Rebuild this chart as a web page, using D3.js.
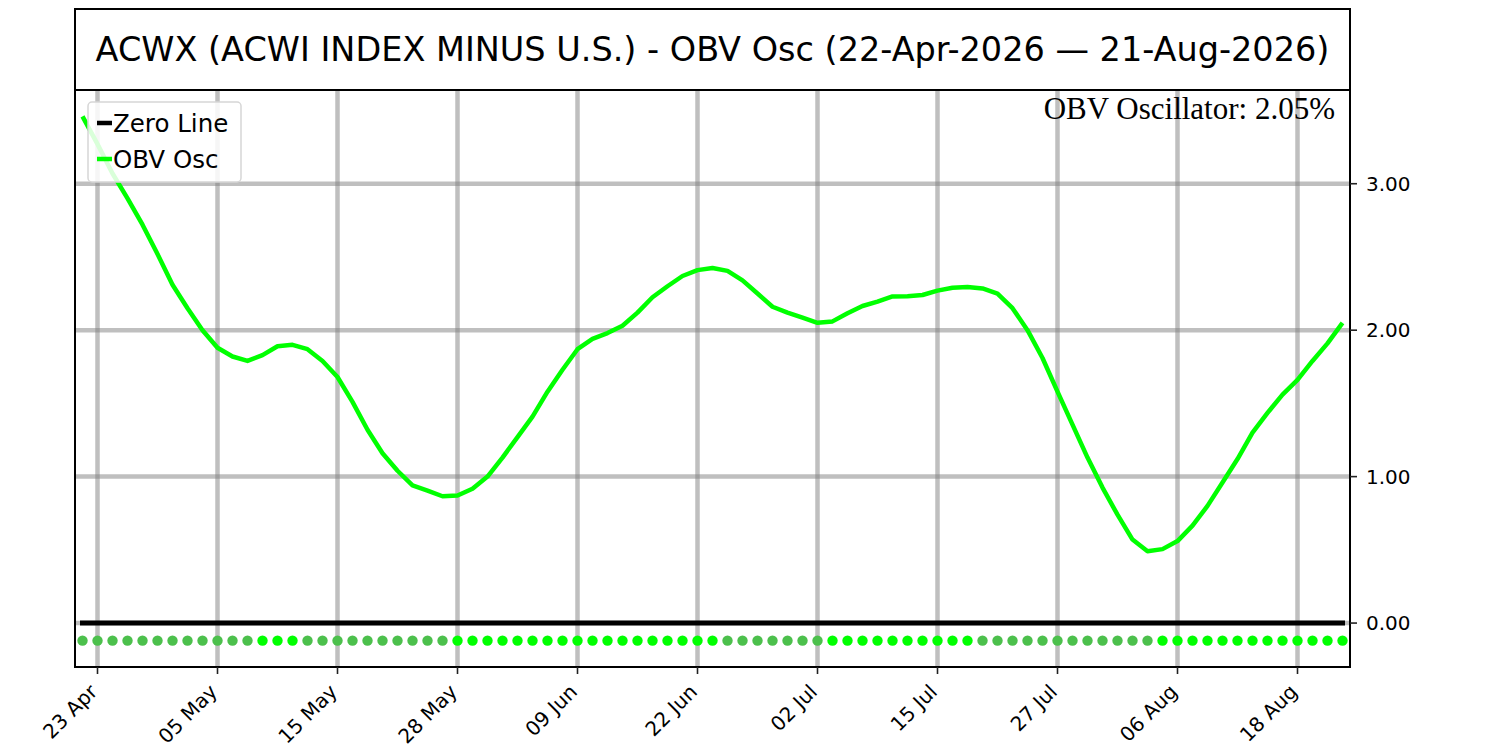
<!DOCTYPE html>
<html>
<head>
<meta charset="utf-8">
<script src="https://cdn.jsdelivr.net/npm/d3@7"></script>
<style>
  html, body { margin: 0; padding: 0; background: #fff; }
  svg { display: block; font-family: "DejaVu Sans", sans-serif; }
</style>
</head>
<body>
<svg id="chart" width="1500" height="750"></svg>
<script>
// trading days shown on the x axis (holidays skipped)
const dates = [
  '2026-04-22', '2026-04-23', '2026-04-24', '2026-04-27', '2026-04-28', '2026-04-29', '2026-04-30',
  '2026-05-01', '2026-05-04', '2026-05-05', '2026-05-06', '2026-05-07', '2026-05-08', '2026-05-11',
  '2026-05-12', '2026-05-13', '2026-05-14', '2026-05-15', '2026-05-18', '2026-05-19', '2026-05-20',
  '2026-05-21', '2026-05-22', '2026-05-26', '2026-05-27', '2026-05-28', '2026-05-29', '2026-06-01',
  '2026-06-02', '2026-06-03', '2026-06-04', '2026-06-05', '2026-06-08', '2026-06-09', '2026-06-10',
  '2026-06-11', '2026-06-12', '2026-06-15', '2026-06-16', '2026-06-17', '2026-06-18', '2026-06-22',
  '2026-06-23', '2026-06-24', '2026-06-25', '2026-06-26', '2026-06-29', '2026-06-30', '2026-07-01',
  '2026-07-02', '2026-07-06', '2026-07-07', '2026-07-08', '2026-07-09', '2026-07-10', '2026-07-13',
  '2026-07-14', '2026-07-15', '2026-07-16', '2026-07-17', '2026-07-20', '2026-07-21', '2026-07-22',
  '2026-07-23', '2026-07-24', '2026-07-27', '2026-07-28', '2026-07-29', '2026-07-30', '2026-07-31',
  '2026-08-03', '2026-08-04', '2026-08-05', '2026-08-06', '2026-08-07', '2026-08-10', '2026-08-11',
  '2026-08-12', '2026-08-13', '2026-08-14', '2026-08-17', '2026-08-18', '2026-08-19', '2026-08-20',
  '2026-08-21'
];

// OBV oscillator (%), one value per trading day
const obvOsc = [
  3.46, 3.27, 3.07, 2.90, 2.72, 2.52, 2.31, 2.15, 2.00, 1.88,
  1.82, 1.79, 1.83, 1.89, 1.90, 1.87, 1.79, 1.68, 1.51, 1.32,
  1.16, 1.04, 0.94, 0.905, 0.866, 0.871, 0.917, 1.00, 1.13, 1.27,
  1.41, 1.58, 1.73, 1.87, 1.94, 1.98, 2.03, 2.12, 2.225, 2.30,
  2.37, 2.41, 2.425, 2.405, 2.34, 2.25, 2.16, 2.12, 2.085, 2.05,
  2.06, 2.115, 2.165, 2.195, 2.23, 2.232, 2.24, 2.27, 2.29, 2.295,
  2.285, 2.25, 2.15, 2.00, 1.81, 1.58, 1.355, 1.13, 0.925, 0.74,
  0.57, 0.49, 0.505, 0.56, 0.665, 0.80, 0.96, 1.12, 1.30, 1.435,
  1.56, 1.66, 1.79, 1.91, 2.05
];

const tickDates = ['2026-04-23', '2026-05-05', '2026-05-15', '2026-05-28', '2026-06-09', '2026-06-22',
  '2026-07-02', '2026-07-15', '2026-07-27', '2026-08-06', '2026-08-18'];
const tickLabels = ['23 Apr', '05 May', '15 May', '28 May', '09 Jun', '22 Jun',
  '02 Jul', '15 Jul', '27 Jul', '06 Aug', '18 Aug'];
const yTicks = [0, 1, 2, 3];
const dotLevel = -0.12;
const yDomain = [-0.30, 3.64];

const title = 'ACWX (ACWI INDEX MINUS U.S.) - OBV Osc (22-Apr-2026 \u2014 21-Aug-2026)';
const lastLabel = `OBV Oscillator: ${obvOsc[obvOsc.length - 1].toFixed(2)}%`;

const plot = { left: 75, right: 1350, top: 90, bottom: 667 };
const titleBox = { top: 9, bottom: 90 };
const svg = d3.select('#chart');

const x = d3.scaleLinear().domain([-0.5, dates.length - 0.5]).range([plot.left, plot.right]);
const y = d3.scaleLinear().domain(yDomain).range([plot.bottom, plot.top]);
const tickIdx = tickDates.map(d => dates.indexOf(d));

// title panel
svg.append('rect')
  .attr('x', plot.left).attr('y', titleBox.top)
  .attr('width', plot.right - plot.left).attr('height', titleBox.bottom - titleBox.top)
  .attr('fill', '#fff').attr('stroke', '#000').attr('stroke-width', 2);
svg.append('text')
  .attr('x', (plot.left + plot.right) / 2)
  .attr('y', (titleBox.top + titleBox.bottom) / 2)
  .attr('text-anchor', 'middle')
  .attr('dominant-baseline', 'central')
  .attr('font-size', 33.5)
  .attr('fill', '#000')
  .text(title);

const defs = svg.append('defs');
defs.append('clipPath').attr('id', 'plot-clip')
  .append('rect')
  .attr('x', plot.left).attr('y', plot.top)
  .attr('width', plot.right - plot.left).attr('height', plot.bottom - plot.top);

const g = svg.append('g').attr('clip-path', 'url(#plot-clip)');

// grid
g.append('g').selectAll('line').data(tickIdx).enter().append('line')
  .attr('x1', d => x(d)).attr('x2', d => x(d))
  .attr('y1', plot.top).attr('y2', plot.bottom)
  .attr('stroke', 'gray').attr('stroke-opacity', 0.5).attr('stroke-width', 4.5);
g.append('g').selectAll('line').data(yTicks).enter().append('line')
  .attr('x1', plot.left).attr('x2', plot.right)
  .attr('y1', d => y(d)).attr('y2', d => y(d))
  .attr('stroke', 'gray').attr('stroke-opacity', 0.5).attr('stroke-width', 4.5);

// zero line
g.append('line')
  .attr('x1', x(0)).attr('x2', x(dates.length - 1))
  .attr('y1', y(0)).attr('y2', y(0))
  .attr('stroke', '#000').attr('stroke-width', 5).attr('stroke-linecap', 'square');

// rising / falling dots
g.append('g').selectAll('circle').data(obvOsc).enter().append('circle')
  .attr('cx', (d, i) => x(i))
  .attr('cy', y(dotLevel))
  .attr('r', 5.2)
  .attr('fill', (d, i) => i > 0 && d > obvOsc[i - 1] ? '#00ff00' : '#4cc04c');

// oscillator line
const line = d3.line().x((d, i) => x(i)).y(d => y(d));
g.append('path')
  .datum(obvOsc)
  .attr('d', line)
  .attr('fill', 'none')
  .attr('stroke', '#00ff00')
  .attr('stroke-width', 4.5)
  .attr('stroke-linejoin', 'round');

// frame
svg.append('rect')
  .attr('x', plot.left).attr('y', plot.top)
  .attr('width', plot.right - plot.left).attr('height', plot.bottom - plot.top)
  .attr('fill', 'none').attr('stroke', '#000').attr('stroke-width', 2);

// x axis
const xAxis = svg.append('g');
xAxis.selectAll('line').data(tickIdx).enter().append('line')
  .attr('x1', d => x(d)).attr('x2', d => x(d))
  .attr('y1', plot.bottom).attr('y2', plot.bottom + 7)
  .attr('stroke', '#222').attr('stroke-width', 1.6);
xAxis.selectAll('text').data(tickIdx).enter().append('text')
  .attr('transform', d => `translate(${x(d) - 4},${plot.bottom + 21}) rotate(-45)`)
  .attr('text-anchor', 'end')
  .attr('dy', '0.35em')
  .attr('font-size', 20)
  .attr('fill', '#000')
  .text((d, i) => tickLabels[i]);

// y axis on the right
const yAxis = svg.append('g');
yAxis.selectAll('line').data(yTicks).enter().append('line')
  .attr('x1', plot.right).attr('x2', plot.right + 7)
  .attr('y1', d => y(d)).attr('y2', d => y(d))
  .attr('stroke', '#222').attr('stroke-width', 1.6);
yAxis.selectAll('text').data(yTicks).enter().append('text')
  .attr('x', plot.right + 16)
  .attr('y', d => y(d))
  .attr('dominant-baseline', 'central')
  .attr('font-size', 20)
  .attr('fill', '#000')
  .text(d => d3.format('.2f')(d));

// legend
const legend = svg.append('g');
legend.append('rect')
  .attr('x', 88).attr('y', 102).attr('width', 153).attr('height', 80)
  .attr('rx', 4)
  .attr('fill', '#fff').attr('fill-opacity', 0.85)
  .attr('stroke', '#d6d6d6').attr('stroke-width', 1.5);
const legendItems = [
  { label: 'Zero Line', color: '#000' },
  { label: 'OBV Osc', color: '#00ff00' }
];
legendItems.forEach((it, i) => {
  const ly = 123 + i * 36;
  legend.append('line')
    .attr('x1', 97).attr('x2', 112).attr('y1', ly).attr('y2', ly)
    .attr('stroke', it.color).attr('stroke-width', 4.5);
  legend.append('text')
    .attr('x', 113).attr('y', ly)
    .attr('dominant-baseline', 'central')
    .attr('font-size', 24.5)
    .attr('fill', '#000')
    .text(it.label);
});

// last value note
svg.append('text')
  .attr('x', 1335).attr('y', 119)
  .attr('text-anchor', 'end')
  .attr('font-family', '"Liberation Serif", "Times New Roman", serif')
  .attr('font-size', 31)
  .attr('fill', '#000')
  .text(lastLabel);
</script>
</body>
</html>
